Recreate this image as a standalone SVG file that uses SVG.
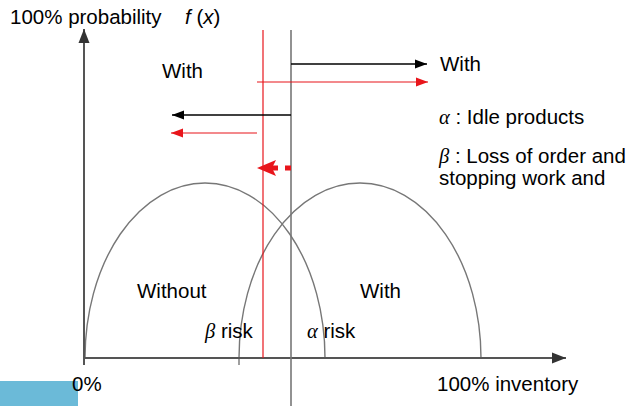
<svg xmlns="http://www.w3.org/2000/svg" width="634" height="406" viewBox="0 0 634 406">
<style>
text{font-family:"Liberation Sans",Arial,sans-serif;font-size:20.5px;fill:#000}
.g{font-family:"Liberation Serif","DejaVu Serif",serif;font-style:italic}
.ax{stroke:#555;stroke-width:2;fill:none}
.vl{stroke:#777;stroke-width:1.6;fill:none}
.cv{stroke:#777;stroke-width:1.4;fill:none}
.bk{stroke:#000;stroke-width:1.6;fill:none}
.rd{stroke:#e8151b;stroke-width:1.2;fill:none}
</style>
<defs>
<marker id="ab" markerWidth="12" markerHeight="10" refX="12" refY="5" orient="auto" markerUnits="userSpaceOnUse"><path d="M0,0.5 L12,5 L0,9.5 Z" fill="#000"/></marker>
<marker id="ar" markerWidth="12" markerHeight="10" refX="12" refY="5" orient="auto" markerUnits="userSpaceOnUse"><path d="M0,0.5 L12,5 L0,9.5 Z" fill="#e8151b"/></marker>
<marker id="aa" markerWidth="14" markerHeight="12" refX="14" refY="6" orient="auto" markerUnits="userSpaceOnUse"><path d="M0,0.5 L14,6 L0,11.5 Z" fill="#333"/></marker>
</defs>
<rect x="0" y="381" width="78" height="25" fill="#6bbad8"/>
<g id="curves">
<path id="without-curve" class="cv" d="M85,358 A120,175 0 0 1 325,358"/>
<path id="with-curve" class="cv" d="M239,365 L239,358 A121,175 0 0 1 481,358"/>
</g>
<g id="connectors">
<line class="ax" x1="84" y1="365" x2="84" y2="29" marker-end="url(#aa)"/>
<line class="ax" x1="84" y1="358" x2="566" y2="358" marker-end="url(#aa)"/>
<line class="vl" x1="291" y1="30" x2="291" y2="406"/>
<line class="rd" x1="263" y1="30" x2="263" y2="358"/>
<line class="bk" x1="291" y1="64" x2="427" y2="64" marker-end="url(#ab)"/>
<line class="rd" x1="257" y1="82" x2="428" y2="82" marker-end="url(#ar)"/>
<line class="bk" x1="291" y1="115" x2="172" y2="115" marker-end="url(#ab)"/>
<line class="rd" x1="257" y1="133" x2="171" y2="133" marker-end="url(#ar)"/>
<g id="dashed-arrow" fill="#e8151b">
<rect x="285" y="165.5" width="6" height="5"/>
<rect x="270" y="165.5" width="8" height="5"/>
<path d="M257,168 L276,160 L272,168 L276,176 Z"/>
</g>
</g>
<g id="labels">
<text x="10" y="24">100% probability</text>
<text x="185" y="24"><tspan font-style="italic">f</tspan> (<tspan font-style="italic">x</tspan>)</text>
<text x="162" y="78">With</text>
<text x="440" y="71">With</text>
<text x="439" y="124"><tspan class="g">α</tspan> : Idle products</text>
<text x="439" y="163"><tspan class="g">β</tspan> : Loss of order and</text>
<text x="439" y="185">stopping work and</text>
<text x="137" y="298">Without</text>
<text x="360" y="298">With</text>
<text x="205" y="338"><tspan class="g">β</tspan> risk</text>
<text x="307" y="338"><tspan class="g">α</tspan> risk</text>
<text x="72" y="391">0%</text>
<text x="437" y="391">100% inventory</text>
</g>
</svg>
